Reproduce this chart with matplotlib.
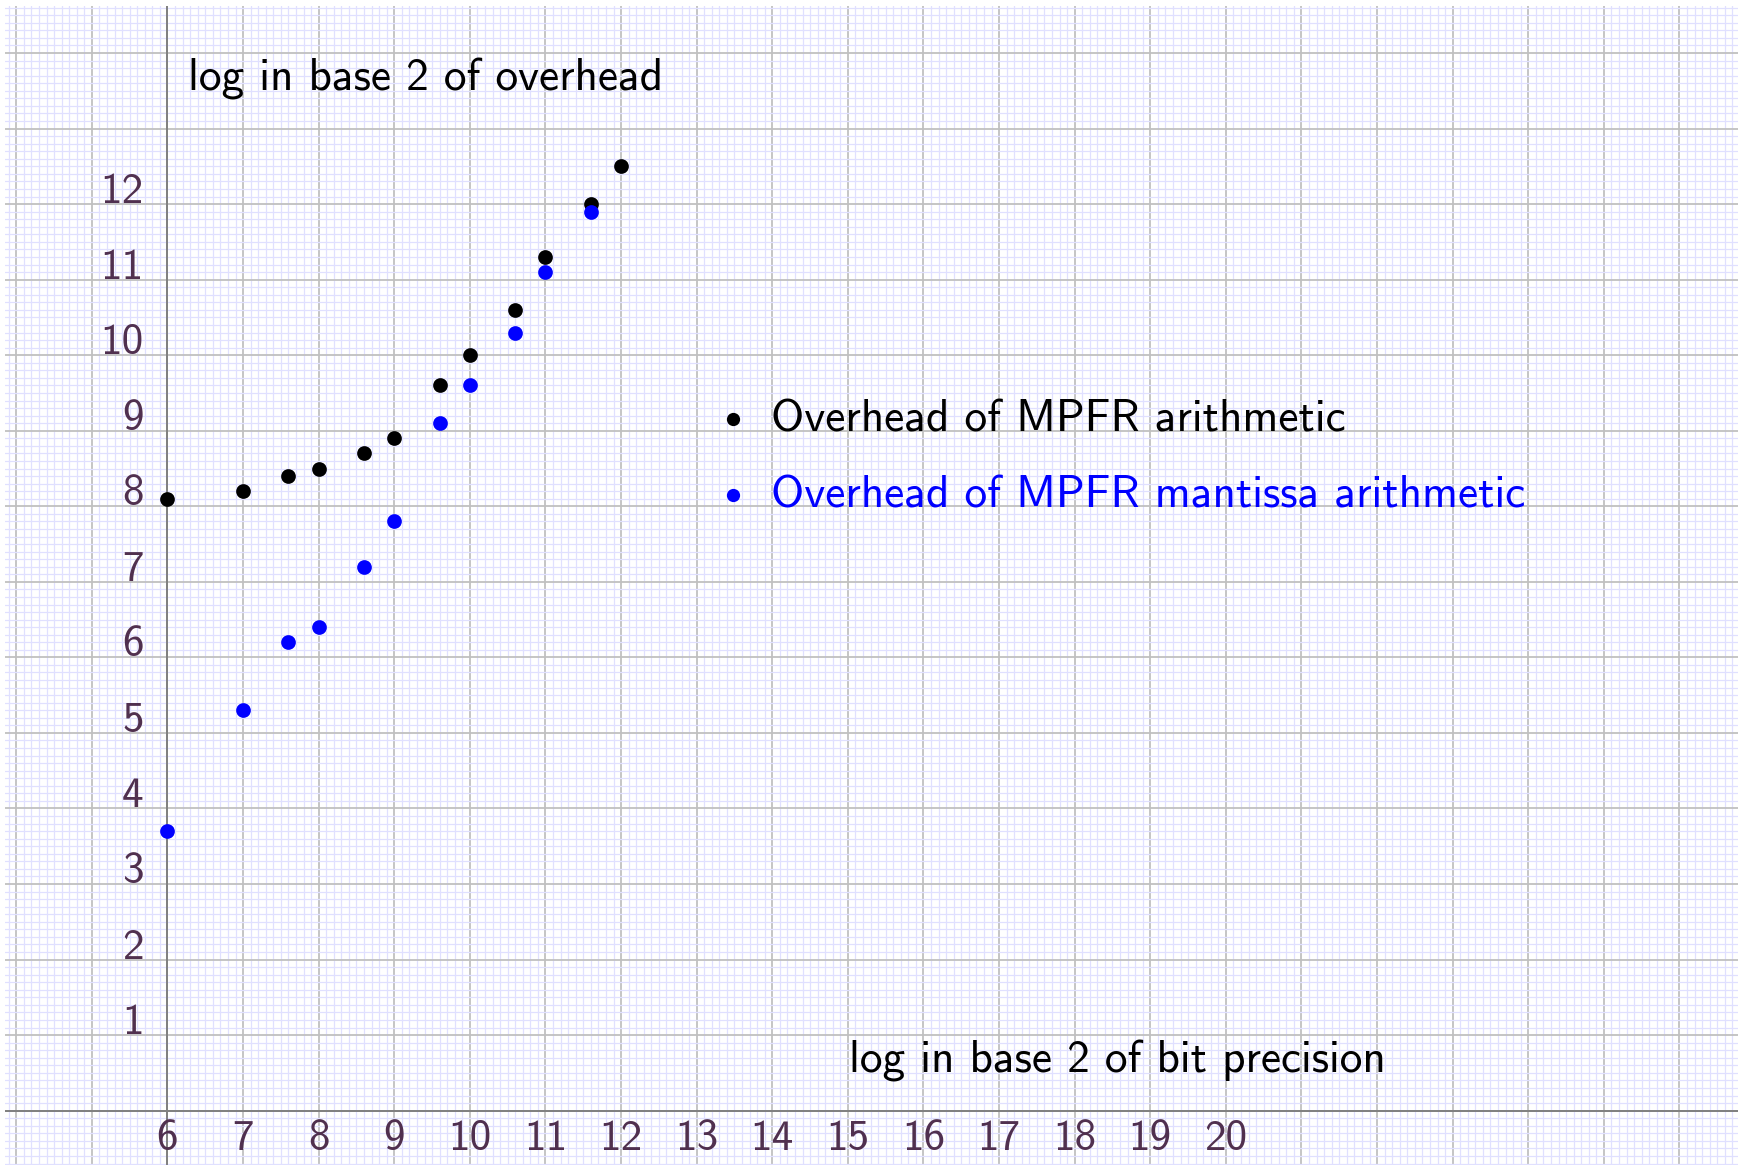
import os
import numpy as np
import matplotlib as mpl
mpl.use('Agg')
from matplotlib import pyplot as plt
from matplotlib import font_manager

# computer modern sans ships with matplotlib
cmss = os.path.join(mpl.get_data_path(), 'fonts', 'ttf', 'cmss10.ttf')
font_manager.fontManager.addfont(cmss)
FONT = [font_manager.FontProperties(fname=cmss).get_name(), 'DejaVu Sans']

# log2 of bit precision
prec = [6, 7, 7.6, 8, 8.6, 9, 9.6, 10, 10.6, 11, 11.6, 12]
# log2 of overhead
mpfr = [8.1, 8.2, 8.4, 8.5, 8.7, 8.9, 9.6, 10.0, 10.6, 11.3, 12.0, 12.5]
mant = [3.7, 5.3, 6.2, 6.4, 7.2, 7.8, 9.1, 9.6, 10.3, 11.1, 11.9]
mant_prec = prec[:len(mant)]

xlabels = list(range(6, 21))
ylabels = list(range(1, 13))

lab_col = '#50304f'
fs_tick = 31
fs = 32.6

fig = plt.figure(figsize=(17.38, 11.65), dpi=100)
ax = fig.add_axes([5 / 1738, 0, 1 - 5 / 1738, 1 - 6 / 1165])
ax.set_xlim(3.851, 26.774)
ax.set_ylim(-0.719, 14.622)

ax.set_xticks(np.arange(4, 27))
ax.set_yticks(np.arange(0, 15))
ax.set_xticks(np.arange(3.9, 26.8, 0.1), minor=True)
ax.set_yticks(np.arange(-0.7, 14.65, 0.1), minor=True)
ax.grid(which='minor', color='#e0e0ff', lw=0.9, zorder=0)
ax.grid(which='major', color='#c0c0c0', lw=1.3, zorder=0)
ax.tick_params(which='both', length=0, labelbottom=False, labelleft=False)
for s in ax.spines.values():
    s.set_visible(False)
ax.set_axisbelow(True)

ax.axhline(0, color='#808080', lw=1.4, zorder=1)
ax.axvline(6, color='#808080', lw=1.4, zorder=1)

for v in xlabels:
    ax.annotate(str(v), (v, 0), xytext=(0, -9), textcoords='offset pixels',
                ha='center', va='top', color=lab_col, fontsize=fs_tick, family=FONT)
for v in ylabels:
    ax.annotate(str(v), (6, v), xytext=(-24, 1), textcoords='offset pixels',
                ha='right', va='baseline', color=lab_col, fontsize=fs_tick, family=FONT)

ax.text(6.265, 13.5, 'log in base 2 of overhead', fontsize=fs, family=FONT,
        ha='left', va='baseline')
ax.text(15.01, 0.5, 'log in base 2 of bit precision', fontsize=fs, family=FONT,
        ha='left', va='baseline')

ax.scatter(prec, mpfr, s=112, color='black', zorder=3, lw=0,
           label='Overhead of MPFR arithmetic')
ax.scatter(mant_prec, mant, s=112, color='#0000ff', zorder=3, lw=0,
           label='Overhead of MPFR mantissa arithmetic')

leg = ax.legend(loc='upper left', bbox_to_anchor=(13.3, 9.42),
                bbox_transform=ax.transData, frameon=False,
                prop={'family': FONT, 'size': fs}, labelcolor='markerfacecolor',
                markerscale=0.9, handlelength=0.6, handletextpad=0.55,
                labelspacing=0.78, borderpad=0, borderaxespad=0)

fig.savefig('out.png', dpi=100)
